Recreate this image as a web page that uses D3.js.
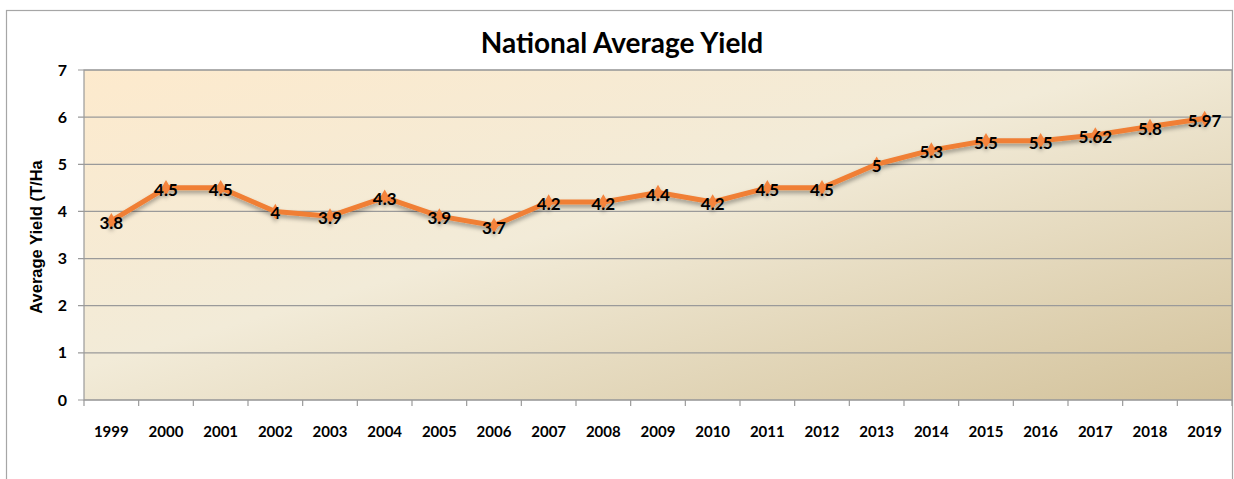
<!DOCTYPE html>
<html>
<head>
<meta charset="utf-8">
<script src="https://cdn.jsdelivr.net/npm/d3@7"></script>
<style>
	body { margin: 0; background: #fff; }
	svg text { font-family: Lato, "Open Sans", sans-serif; font-weight: bold; fill: #000; }
	.grid line { stroke: #9a9a9a; stroke-width: 1.2; }
	.axis path, .axis line { stroke: #9a9a9a; stroke-width: 1.2; }
</style>
</head>
<body>
<div class="chart"></div>
<script>

	// data
	const years = ["1999", "2000", "2001", "2002", "2003", "2004", "2005", "2006", "2007", "2008",
		"2009", "2010", "2011", "2012", "2013", "2014", "2015", "2016", "2017", "2018", "2019"];
	const yields = [3.8, 4.5, 4.5, 4, 3.9, 4.3, 3.9, 3.7, 4.2, 4.2,
		4.4, 4.2, 4.5, 4.5, 5, 5.3, 5.5, 5.5, 5.62, 5.8, 5.97];
	const yTicks = [0, 1, 2, 3, 4, 5, 6, 7];

	const data = years.map((y, i) => ({ year: y, value: yields[i] }));

	const width = 1234;
	const height = 479;
	const plot = { left: 84, right: 1232, top: 70, bottom: 400 };

	// scales
	const x = d3.scaleBand().domain(years).range([plot.left, plot.right]);
	const y = d3.scaleLinear().domain([0, 7]).range([plot.bottom, plot.top]);

	const svg = d3.select(".chart")
		.append("svg")
			.attr("width", width)
			.attr("height", height);

	const defs = svg.append("defs");

	const grad = defs.append("linearGradient")
		.attr("id", "bg")
		.attr("x1", "0%").attr("y1", "0%")
		.attr("x2", "100%").attr("y2", "100%");
	grad.append("stop").attr("offset", "0%").attr("stop-color", "#fdeacd");
	grad.append("stop").attr("offset", "45%").attr("stop-color", "#f2ebd8");
	grad.append("stop").attr("offset", "100%").attr("stop-color", "#d3c29b");

	const shadow = defs.append("filter")
		.attr("id", "shadow")
		.attr("x", "-10%").attr("y", "-10%")
		.attr("width", "120%").attr("height", "130%");
	shadow.append("feDropShadow")
		.attr("dx", 0).attr("dy", 3)
		.attr("stdDeviation", 2)
		.attr("flood-color", "#000")
		.attr("flood-opacity", 0.35);

	// outer frame
	svg.append("rect")
		.attr("x", 6.5).attr("y", 10.5)
		.attr("width", 1226).attr("height", 480)
		.attr("fill", "#fff")
		.attr("stroke", "#a6a6a6")
		.attr("stroke-width", 1.2);

	// plot area
	svg.append("rect")
		.attr("x", plot.left)
		.attr("y", plot.top)
		.attr("width", plot.right - plot.left)
		.attr("height", plot.bottom - plot.top)
		.attr("fill", "url(#bg)")
		.attr("stroke", "#9a9a9a")
		.attr("stroke-width", 1.2);

	// gridlines
	svg.append("g")
		.attr("class", "grid")
		.selectAll("line")
			.data(yTicks).enter()
		.append("line")
			.attr("x1", plot.left - 6)
			.attr("x2", plot.right)
			.attr("y1", (d) => y(d))
			.attr("y2", (d) => y(d));

	// y labels
	svg.append("g")
		.selectAll("text")
			.data(yTicks).enter()
		.append("text")
			.attr("x", 67)
			.attr("y", (d) => y(d))
			.attr("dy", "0.35em")
			.attr("text-anchor", "end")
			.style("font-size", "16px")
			.text((d) => d);

	// x axis
	const xAxis = svg.append("g")
		.attr("class", "axis")
		.attr("transform", `translate(0, ${plot.bottom})`);

	xAxis.selectAll("line")
		.data(years.concat(["end"])).enter()
		.append("line")
			.attr("x1", (d, i) => plot.left + i * x.step())
			.attr("x2", (d, i) => plot.left + i * x.step())
			.attr("y1", 0)
			.attr("y2", 6);

	xAxis.selectAll("text")
		.data(years).enter()
		.append("text")
			.attr("x", (d) => x(d) + x.bandwidth() / 2)
			.attr("y", 32)
			.attr("dy", "0.35em")
			.attr("text-anchor", "middle")
			.style("font-size", "15px")
			.text((d) => d);

	// series
	const cx = (d) => x(d.year) + x.bandwidth() / 2;
	const line = d3.line()
		.x(cx)
		.y((d) => y(d.value));

	const series = svg.append("g").attr("filter", "url(#shadow)");

	series.append("path")
		.datum(data)
		.attr("fill", "none")
		.attr("stroke", "#f07f35")
		.attr("stroke-width", 5)
		.attr("stroke-linejoin", "round")
		.attr("d", line);

	series.selectAll(".marker")
		.data(data).enter()
		.append("path")
			.attr("class", "marker")
			.attr("transform", (d) => `translate(${cx(d)}, ${y(d.value)})`)
			.attr("d", d3.symbol(d3.symbolDiamond, 70))
			.attr("fill", "#f5843c");

	// data labels
	svg.append("g")
		.selectAll("text")
			.data(data).enter()
		.append("text")
			.attr("x", cx)
			.attr("y", (d) => y(d.value) + 2)
			.attr("dy", "0.35em")
			.attr("text-anchor", "middle")
			.style("font-size", "17px")
			.text((d) => d.value);

	// titles
	svg.append("text")
		.attr("x", 622)
		.attr("y", 53)
		.attr("text-anchor", "middle")
		.style("font-size", "28px")
		.text("National Average Yield");

	svg.append("text")
		.attr("transform", "translate(42, 237) rotate(-90)")
		.attr("text-anchor", "middle")
		.style("font-family", "'Liberation Sans', Arial, sans-serif")
		.style("font-size", "16.5px")
		.text("Average Yield (T/Ha");

</script>
</body>
</html>
